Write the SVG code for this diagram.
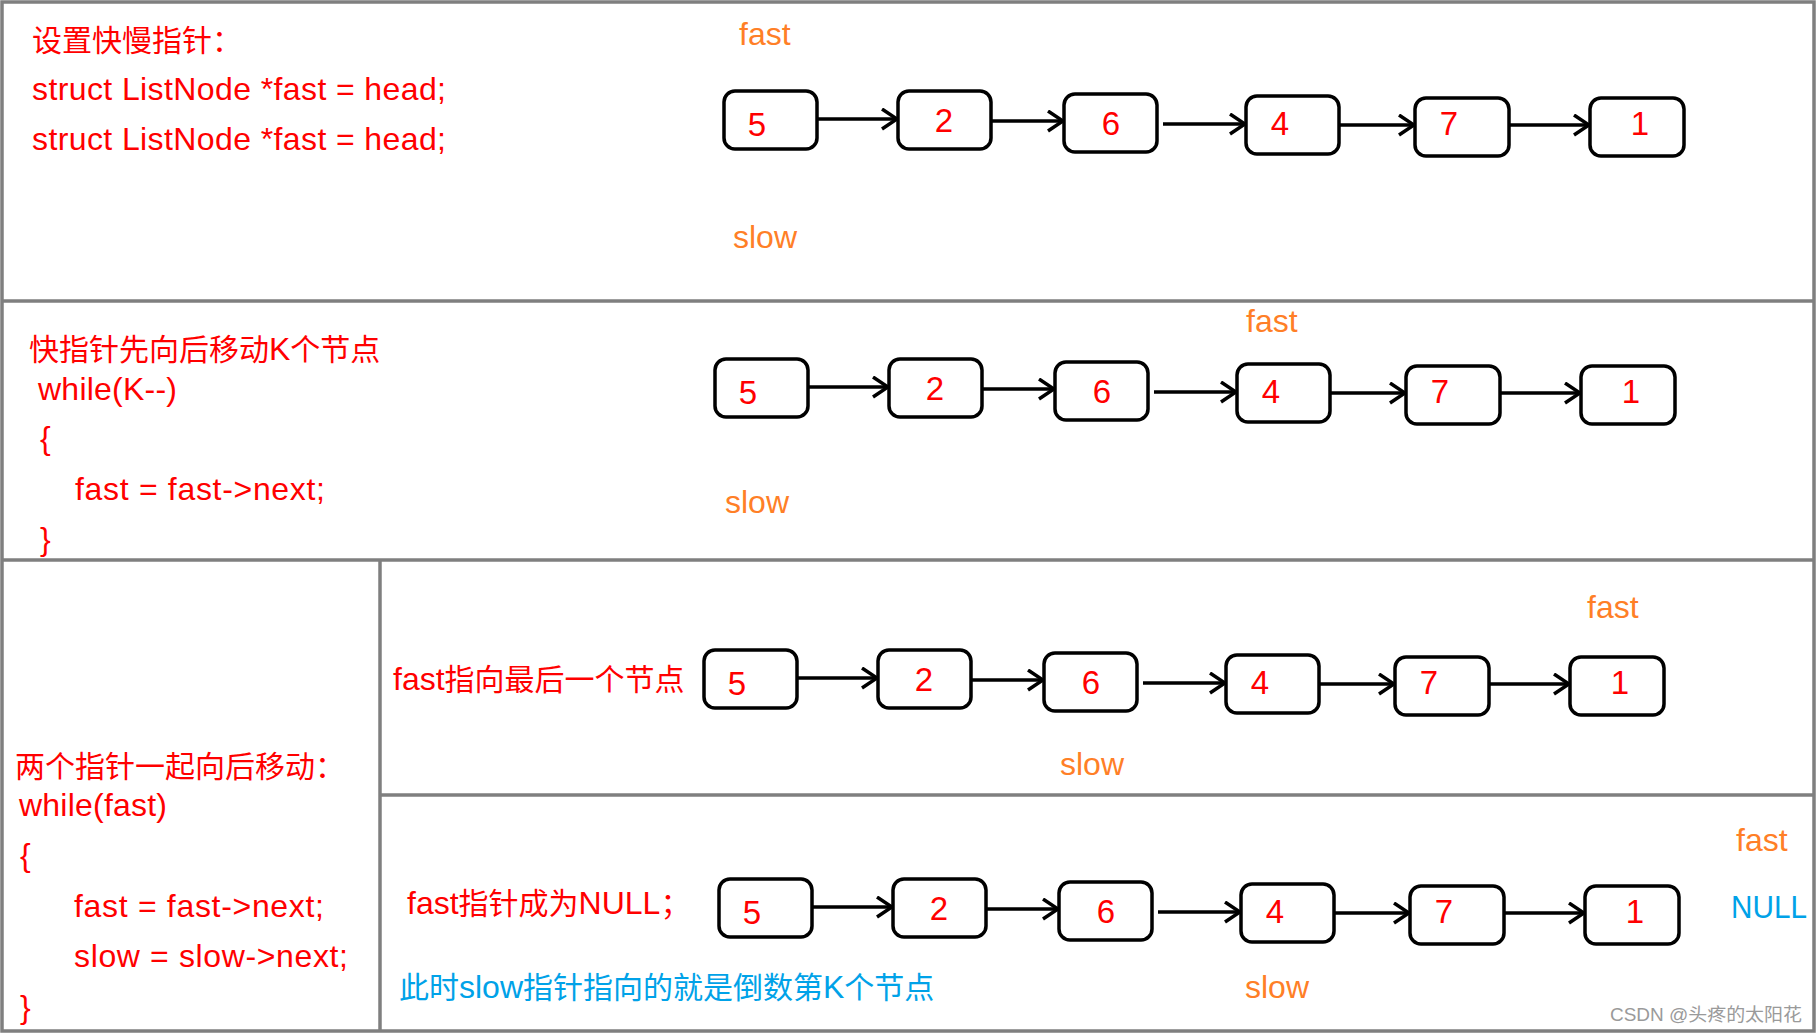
<svg xmlns="http://www.w3.org/2000/svg" width="1816" height="1033" viewBox="0 0 1816 1033">
<style>
text{font-family:"Liberation Sans","Noto Sans CJK SC",sans-serif;font-size:32px}
.r{fill:#ff0000}
.o{fill:#ff7f27}
.b{fill:#00a2e8}
.c{font-size:30px}
.num{fill:#ff0000;font-size:33px;text-anchor:middle}
.box{fill:#fff;stroke:#000;stroke-width:3.5}
.frame{fill:none;stroke:#7f7f7f;stroke-width:3.5}
.arr{stroke:#000;stroke-width:3.5;fill:none;marker-end:url(#arr)}
.wm{fill:#9a9a9a;font-size:18px}
</style>
<defs>
<marker id="arr" markerUnits="userSpaceOnUse" markerWidth="20" markerHeight="24" refX="17" refY="11" orient="auto">
<path d="M2,1 L17,11 L2,21" fill="none" stroke="#000" stroke-width="3.5"/>
</marker>
</defs>
<rect width="1816" height="1033" fill="#fff"/>
<g id="frames">
<rect class="frame" x="2" y="2" width="1812" height="1029"/>
<line class="frame" x1="2" y1="301" x2="1814" y2="301"/>
<line class="frame" x1="2" y1="560" x2="1814" y2="560"/>
<line class="frame" x1="380" y1="560" x2="380" y2="1031"/>
<line class="frame" x1="380" y1="795" x2="1814" y2="795"/>
</g>
<g id="texts">
<text class="r" x="32" y="51"><tspan class="c">设置快慢指针：</tspan></text>
<text class="r" x="32" y="100" textLength="414">struct ListNode *fast = head;</text>
<text class="r" x="32" y="150" textLength="414">struct ListNode *fast = head;</text>
<text class="o" x="739" y="45">fast</text>
<text class="o" x="733" y="248">slow</text>
<text class="r" x="29" y="360"><tspan class="c">快指针先向后移动</tspan>K<tspan class="c">个节点</tspan></text>
<text class="r" x="38" y="400" textLength="139">while(K--)</text>
<text class="r" x="40" y="449">{</text>
<text class="r" x="75" y="500" textLength="250">fast = fast-&gt;next;</text>
<text class="r" x="40" y="550">}</text>
<text class="o" x="1246" y="332">fast</text>
<text class="o" x="725" y="513">slow</text>
<text class="r" x="15" y="777"><tspan class="c">两个指针一起向后移动：</tspan></text>
<text class="r" x="19" y="816" textLength="148">while(fast)</text>
<text class="r" x="20" y="866">{</text>
<text class="r" x="74" y="917" textLength="250">fast = fast-&gt;next;</text>
<text class="r" x="74" y="967" textLength="274">slow = slow-&gt;next;</text>
<text class="r" x="20" y="1018">}</text>
<text class="r" x="393" y="690">fast<tspan class="c">指向最后一个节点</tspan></text>
<text class="o" x="1587" y="618">fast</text>
<text class="o" x="1060" y="775">slow</text>
<text class="r" x="407" y="914">fast<tspan class="c">指针成为</tspan>NULL<tspan class="c">；</tspan></text>
<text class="b" x="399" y="998"><tspan class="c">此时</tspan>slow<tspan class="c">指针指向的就是倒数第</tspan>K<tspan class="c">个节点</tspan></text>
<text class="o" x="1736" y="851">fast</text>
<text class="b" x="1731" y="918" textLength="76" lengthAdjust="spacingAndGlyphs">NULL</text>
<text class="o" x="1245" y="998">slow</text>
<text class="wm" x="1610" y="1021" textLength="192" lengthAdjust="spacingAndGlyphs">CSDN @头疼的太阳花</text>
</g>
<g id="connectors">
<g transform="translate(0,0)">
<line class="arr" x1="817" y1="119" x2="897" y2="119"/>
<line class="arr" x1="991" y1="121" x2="1063" y2="121"/>
<line class="arr" x1="1163" y1="124" x2="1245" y2="124"/>
<line class="arr" x1="1339" y1="125" x2="1414" y2="125"/>
<line class="arr" x1="1509" y1="125" x2="1589" y2="125"/>
</g>
<g transform="translate(-9,268)">
<line class="arr" x1="817" y1="119" x2="897" y2="119"/>
<line class="arr" x1="991" y1="121" x2="1063" y2="121"/>
<line class="arr" x1="1163" y1="124" x2="1245" y2="124"/>
<line class="arr" x1="1339" y1="125" x2="1414" y2="125"/>
<line class="arr" x1="1509" y1="125" x2="1589" y2="125"/>
</g>
<g transform="translate(-20,559)">
<line class="arr" x1="817" y1="119" x2="897" y2="119"/>
<line class="arr" x1="991" y1="121" x2="1063" y2="121"/>
<line class="arr" x1="1163" y1="124" x2="1245" y2="124"/>
<line class="arr" x1="1339" y1="125" x2="1414" y2="125"/>
<line class="arr" x1="1509" y1="125" x2="1589" y2="125"/>
</g>
<g transform="translate(-5,788)">
<line class="arr" x1="817" y1="119" x2="897" y2="119"/>
<line class="arr" x1="991" y1="121" x2="1063" y2="121"/>
<line class="arr" x1="1163" y1="124" x2="1245" y2="124"/>
<line class="arr" x1="1339" y1="125" x2="1414" y2="125"/>
<line class="arr" x1="1509" y1="125" x2="1589" y2="125"/>
</g>
</g>
<g id="row1" transform="translate(0,0)">
<g id="r1-n5"><rect class="box" x="724" y="91" width="93" height="58" rx="11"/><text class="num" x="757" y="136">5</text></g>
<g id="r1-n2"><rect class="box" x="898" y="91" width="93" height="58" rx="11"/><text class="num" x="944" y="132">2</text></g>
<g id="r1-n6"><rect class="box" x="1064" y="94" width="93" height="58" rx="11"/><text class="num" x="1111" y="135">6</text></g>
<g id="r1-n4"><rect class="box" x="1246" y="96" width="93" height="58" rx="11"/><text class="num" x="1280" y="135">4</text></g>
<g id="r1-n7"><rect class="box" x="1415" y="98" width="94" height="58" rx="11"/><text class="num" x="1449" y="135">7</text></g>
<g id="r1-n1"><rect class="box" x="1590" y="98" width="94" height="58" rx="11"/><text class="num" x="1640" y="135">1</text></g>
</g>
<g id="row2" transform="translate(-9,268)">
<g id="r2-n5"><rect class="box" x="724" y="91" width="93" height="58" rx="11"/><text class="num" x="757" y="136">5</text></g>
<g id="r2-n2"><rect class="box" x="898" y="91" width="93" height="58" rx="11"/><text class="num" x="944" y="132">2</text></g>
<g id="r2-n6"><rect class="box" x="1064" y="94" width="93" height="58" rx="11"/><text class="num" x="1111" y="135">6</text></g>
<g id="r2-n4"><rect class="box" x="1246" y="96" width="93" height="58" rx="11"/><text class="num" x="1280" y="135">4</text></g>
<g id="r2-n7"><rect class="box" x="1415" y="98" width="94" height="58" rx="11"/><text class="num" x="1449" y="135">7</text></g>
<g id="r2-n1"><rect class="box" x="1590" y="98" width="94" height="58" rx="11"/><text class="num" x="1640" y="135">1</text></g>
</g>
<g id="row3" transform="translate(-20,559)">
<g id="r3-n5"><rect class="box" x="724" y="91" width="93" height="58" rx="11"/><text class="num" x="757" y="136">5</text></g>
<g id="r3-n2"><rect class="box" x="898" y="91" width="93" height="58" rx="11"/><text class="num" x="944" y="132">2</text></g>
<g id="r3-n6"><rect class="box" x="1064" y="94" width="93" height="58" rx="11"/><text class="num" x="1111" y="135">6</text></g>
<g id="r3-n4"><rect class="box" x="1246" y="96" width="93" height="58" rx="11"/><text class="num" x="1280" y="135">4</text></g>
<g id="r3-n7"><rect class="box" x="1415" y="98" width="94" height="58" rx="11"/><text class="num" x="1449" y="135">7</text></g>
<g id="r3-n1"><rect class="box" x="1590" y="98" width="94" height="58" rx="11"/><text class="num" x="1640" y="135">1</text></g>
</g>
<g id="row4" transform="translate(-5,788)">
<g id="r4-n5"><rect class="box" x="724" y="91" width="93" height="58" rx="11"/><text class="num" x="757" y="136">5</text></g>
<g id="r4-n2"><rect class="box" x="898" y="91" width="93" height="58" rx="11"/><text class="num" x="944" y="132">2</text></g>
<g id="r4-n6"><rect class="box" x="1064" y="94" width="93" height="58" rx="11"/><text class="num" x="1111" y="135">6</text></g>
<g id="r4-n4"><rect class="box" x="1246" y="96" width="93" height="58" rx="11"/><text class="num" x="1280" y="135">4</text></g>
<g id="r4-n7"><rect class="box" x="1415" y="98" width="94" height="58" rx="11"/><text class="num" x="1449" y="135">7</text></g>
<g id="r4-n1"><rect class="box" x="1590" y="98" width="94" height="58" rx="11"/><text class="num" x="1640" y="135">1</text></g>
</g>
</svg>
